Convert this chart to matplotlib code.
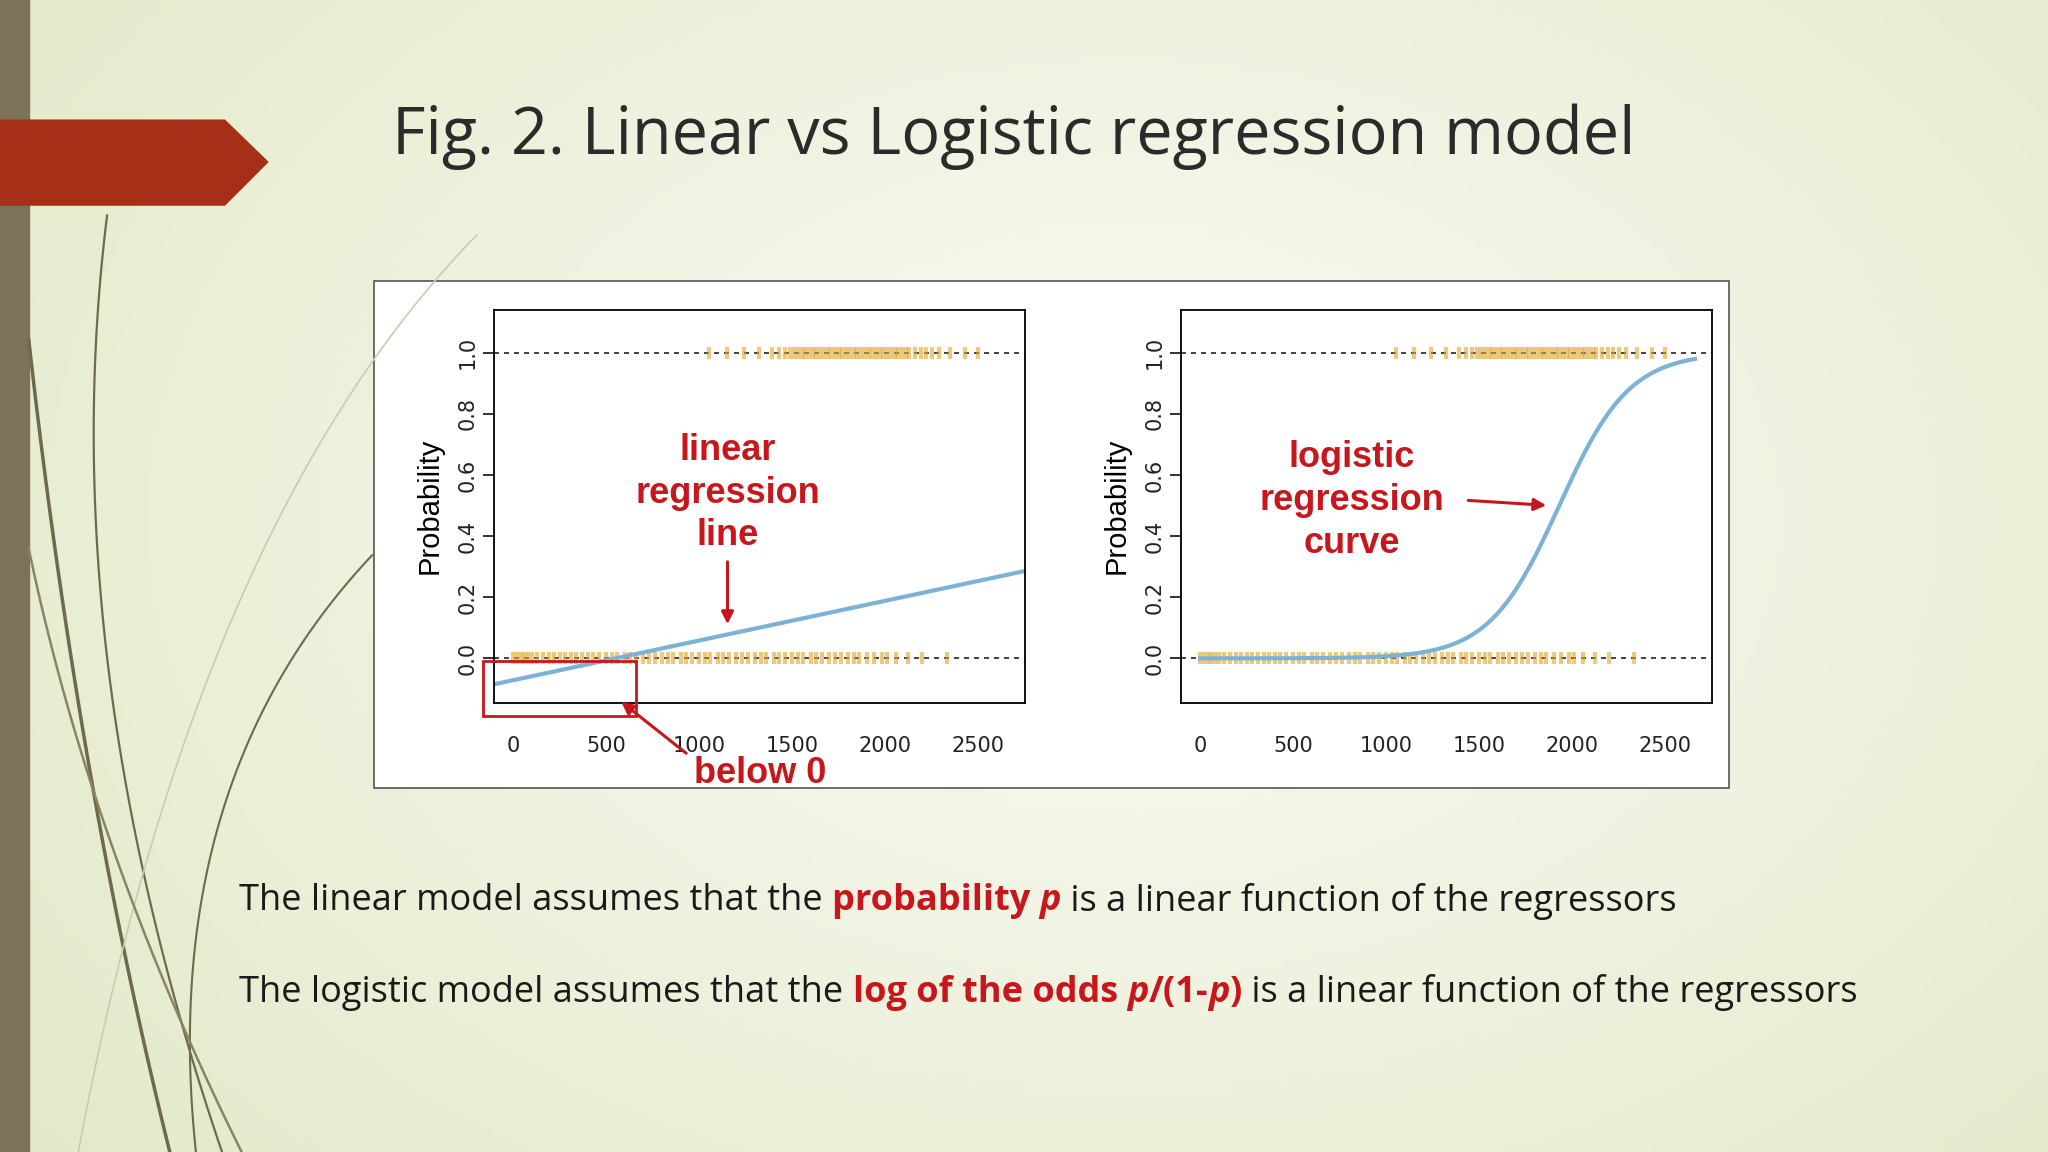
import numpy as np
import matplotlib.pyplot as plt
from matplotlib.patches import Polygon, Rectangle

# ================= DATA =================
x_ticks = [0, 500, 1000, 1500, 2000, 2500]
y_ticks = [0.0, 0.2, 0.4, 0.6, 0.8, 1.0]

# observed outcomes (rug of points at 0 and 1)
x_zero = [0, 20, 40, 60, 80, 100, 130, 160, 190, 220, 250, 280, 310, 340, 370, 400,
          430, 460, 500, 530, 560, 600, 630, 660, 700, 730, 760, 800, 830, 860, 900,
          930, 960, 1000, 1030, 1060, 1100, 1130, 1160, 1200, 1230, 1260, 1300, 1330,
          1360, 1400, 1430, 1460, 1500, 1530, 1560, 1600, 1630, 1660, 1700, 1730, 1760,
          1800, 1830, 1860, 1900, 1940, 1980, 2010, 2060, 2120, 2200, 2330]
x_one = [1050, 1150, 1240, 1320, 1390, 1430, 1460, 1490, 1510, 1530, 1550, 1570, 1590,
         1610, 1630, 1650, 1670, 1690, 1710, 1730, 1750, 1770, 1790, 1810, 1830, 1850,
         1870, 1890, 1910, 1930, 1950, 1970, 1990, 2010, 2030, 2050, 2070, 2090, 2110,
         2130, 2160, 2190, 2220, 2250, 2290, 2350, 2430, 2500]

# fitted models
lin_x = [-105, 2760]
lin_y = [-0.085, 0.287]
logit_x0 = 1930
logit_k = 0.0053
logit_range = [0, 2660]

W, H = 1568, 882
fig = plt.figure(figsize=(20.48, 11.52), dpi=100)


def fx(x):
    return x / W


def fy(y):
    return 1 - y / H


# ================= BACKGROUND =================
bg = fig.add_axes([0, 0, 1, 1], zorder=0)
gx, gy = np.meshgrid(np.linspace(0, 1, 300), np.linspace(0, 1, 200))
r = np.sqrt((gx - 0.55) ** 2 + ((gy - 0.45) * 0.8) ** 2)
c0 = np.array([0.985, 0.985, 0.965])
c1 = np.array([0.88, 0.91, 0.77])
t = np.clip(r / 0.75, 0, 1)[..., None]
bg.imshow(c0 * (1 - t) + c1 * t, extent=[0, 1, 0, 1], aspect='auto')
bg.set_xlim(0, 1)
bg.set_ylim(0, 1)
bg.axis('off')

# decorative curves
tt = np.linspace(0, 1, 100)
for (x0, y0, cx, cy, x1, y1, lw, col) in [
        (82, 165, 40, 500, 170, 882, 1.6, '#6f6a4a'),
        (22, 260, 60, 600, 130, 882, 2.5, '#6f6a4a'),
        (285, 425, 120, 600, 150, 882, 1.5, '#6f6a4a'),
        (365, 180, 150, 400, 60, 882, 1.2, '#c9ccb0'),
        (22, 420, 70, 650, 185, 882, 1.8, '#8a8560')]:
    bx = (1 - tt) ** 2 * x0 + 2 * (1 - tt) * tt * cx + tt ** 2 * x1
    by = (1 - tt) ** 2 * y0 + 2 * (1 - tt) * tt * cy + tt ** 2 * y1
    bg.plot(fx(bx), fy(by), color=col, lw=lw)

bg.add_patch(Rectangle((0, 0), fx(22), 1, color='#7b7257'))
bg.add_patch(Polygon([(0, fy(92)), (fx(172), fy(92)), (fx(205), fy(124)),
                      (fx(172), fy(157)), (0, fy(157))], color='#a52f17'))

fig.text(fx(300), fy(105), "Fig. 2. Linear vs Logistic regression model",
         fontsize=46.6, family='Open Sans', color='#2b2b2b', va='center')

# white panel
bg.add_patch(Rectangle((fx(286), fy(603)), fx(1324 - 286), (603 - 215) / H,
                       facecolor='white', edgecolor='#555555', lw=1.2))


# ================= PLOTS =================
def setup(ax):
    ax.set_xlim(-105, 2753)
    ax.set_ylim(-0.145, 1.141)
    ax.set_xticks(x_ticks)
    ax.set_yticks(y_ticks)
    ax.set_yticklabels([f"{v:.1f}" for v in y_ticks], rotation=90, va='center')
    ax.tick_params(labelsize=15, colors='#222222', length=8, width=1.3)
    ax.tick_params(axis='x', length=0, pad=24)
    ax.set_ylabel("Probability", fontsize=21, family='Liberation Sans', labelpad=10)
    for s in ax.spines.values():
        s.set_linewidth(1.3)
    for yv in (0, 1):
        ax.axhline(yv, color='#222222', ls=(0, (3, 3)), lw=1.2, zorder=1)
    ax.plot(x_zero, [0] * len(x_zero), '|', color='#e2a52a', ms=9, mew=3, alpha=0.6)
    ax.plot(x_one, [1] * len(x_one), '|', color='#e2a52a', ms=9, mew=3, alpha=0.6)


ax1 = fig.add_axes([fx(378), fy(538), fx(785 - 378), (538 - 237) / H], zorder=1)
setup(ax1)
ax1.plot(lin_x, lin_y, color='#7cb2d6', lw=3)

ax2 = fig.add_axes([fx(904), fy(538), fx(1311 - 904), (538 - 237) / H], zorder=1)
setup(ax2)
lx = np.linspace(logit_range[0], logit_range[1], 300)
ax2.plot(lx, 1 / (1 + np.exp(-logit_k * (lx - logit_x0))), color='#7cb2d6', lw=3)

# ================= ANNOTATIONS =================
ov = fig.add_axes([0, 0, 1, 1], zorder=5)
ov.set_xlim(0, 1)
ov.set_ylim(0, 1)
ov.axis('off')
ov.patch.set_alpha(0)

red = '#c8161d'
kw = dict(color=red, fontsize=26, fontweight='bold', family='Liberation Sans',
          ha='center', va='center')
for txt, y in [("linear", 345), ("regression", 378), ("line", 410)]:
    ov.text(fx(557), fy(y), txt, **kw)
for txt, y in [("logistic", 350), ("regression", 383), ("curve", 416)]:
    ov.text(fx(1035), fy(y), txt, **kw)
ov.text(fx(582), fy(592), "below 0", **kw)

ap = dict(arrowstyle='-|>', color=red, lw=2.2, mutation_scale=18)
ov.annotate("", xy=(fx(557), fy(480)), xytext=(fx(557), fy(428)), arrowprops=ap)
ov.annotate("", xy=(fx(1186), fy(387)), xytext=(fx(1122), fy(383)), arrowprops=ap)
ov.annotate("", xy=(fx(474), fy(536)), xytext=(fx(527), fy(578)), arrowprops=ap)
ov.add_patch(Rectangle((fx(370), fy(548)), fx(487 - 370), (548 - 506) / H,
                       fill=False, edgecolor=red, lw=2))

# ================= BOTTOM TEXT =================
fig.canvas.draw()
renderer = fig.canvas.get_renderer()


def rich_line(x, y, parts):
    for txt, col, bold, ital in parts:
        t = fig.text(x, y, txt, fontsize=26, family='Open Sans', color=col,
                     fontweight='bold' if bold else 'normal',
                     fontstyle='italic' if ital else 'normal', va='center')
        bb = t.get_window_extent(renderer)
        x += bb.width / fig.bbox.width


dark = '#1a1a1a'
rich_line(fx(183), fy(690), [
    ("The linear model assumes that the ", dark, False, False),
    ("probability ", red, True, False),
    ("p", red, True, True),
    (" is a linear function of the regressors", dark, False, False)])
rich_line(fx(183), fy(760), [
    ("The logistic model assumes that the ", dark, False, False),
    ("log of the odds ", red, True, False),
    ("p", red, True, True),
    ("/(1-", red, True, False),
    ("p", red, True, True),
    (")", red, True, False),
    (" is a linear function of the regressors", dark, False, False)])

fig.savefig("out.png", dpi=100)
